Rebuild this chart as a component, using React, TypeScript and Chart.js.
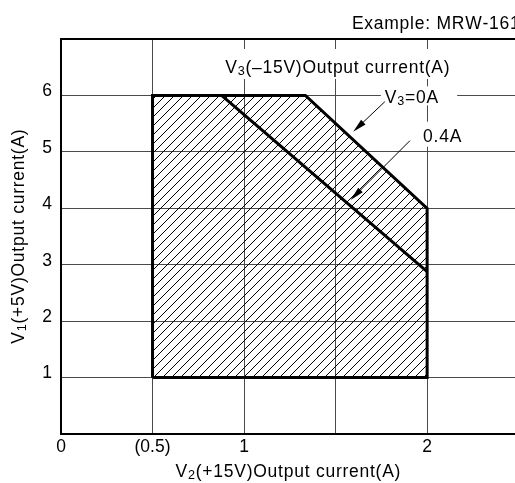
import React, { useEffect, useRef } from "react";
import { Chart, registerables } from "chart.js";

Chart.register(...registerables);

const FONT_FAMILY = '"Liberation Sans", Arial, Helvetica, sans-serif';
const FONT_SIZE = 17.5;
const LETTER_SPACING = 0.75;
const HATCH_SPACING = 9;

// Axis ticks
const xTickValues = [0, 0.5, 1, 1.5, 2];
const xTickLabels = ["0", "(0.5)", "1", "", "2"];
const yTickValues = [1, 2, 3, 4, 5, 6];
const yTickLabels = ["1", "2", "3", "4", "5", "6"];
const xMin = 0;
const xMax = 2.48;
const yMin = 0;
const yMax = 7;

// Operating area boundary for V3 = 0A (closed polygon)
const areaX = [0.5, 0.5, 1.335, 2, 2, 0.5];
const areaY = [1, 6, 6, 4, 1, 1];
// Boundary for V3 = 0.4A
const limitX = [0.877, 2];
const limitY = [6, 2.876];

// Text annotations ("_" marks a subscript character)
const noteTexts = ["Example: MRW-161", "V_3(–15V)Output current(A)", "V_3=0A", "0.4A"];
const noteX = [1.589, 1.51, 1.769, 1.978];
const noteY = [7.172, 6.389, 5.86, 5.18];
const noteAlign = ["left", "center", "left", "left"];
// white box: [above baseline, right, below baseline, left]
const noteBox: (number[] | null)[] = [null, [24.5, 3, 5.5, 3], [17, 19, 2, 4], [20, 2, 5, 3]];

// Leader arrows (start -> tip)
const arrowFromX = [1.769, 1.906];
const arrowFromY = [5.889, 5.198];
const arrowToX = [1.596, 1.582];
const arrowToY = [5.357, 4.147];

const xTitle = "V_2(+15V)Output current(A)";
const yTitle = "V_1(+5V)Output current(A)";

type Seg = { t: string; sub: boolean };

function parseRich(s: string): Seg[] {
  const out: Seg[] = [];
  let buf = "";
  for (let i = 0; i < s.length; i++) {
    if (s[i] === "_" && i + 1 < s.length) {
      if (buf) {
        out.push({ t: buf, sub: false });
        buf = "";
      }
      out.push({ t: s[i + 1], sub: true });
      i++;
    } else buf += s[i];
  }
  if (buf) out.push({ t: buf, sub: false });
  return out;
}

const fontStr = (size: number) => `${size}px ${FONT_FAMILY}`;

function segWidth(ctx: CanvasRenderingContext2D, s: Seg, size: number) {
  ctx.font = fontStr(s.sub ? size * 0.72 : size);
  return ctx.measureText(s.t).width + LETTER_SPACING * s.t.length;
}

function richWidth(ctx: CanvasRenderingContext2D, segs: Seg[], size: number) {
  let w = 0;
  for (const s of segs) w += segWidth(ctx, s, size);
  return w - LETTER_SPACING;
}

function drawRich(
  ctx: CanvasRenderingContext2D,
  segs: Seg[],
  x: number,
  y: number,
  size: number,
  align: string
) {
  const w = richWidth(ctx, segs, size);
  let cx = align === "center" ? x - w / 2 : align === "right" ? x - w : x;
  ctx.textAlign = "left";
  ctx.textBaseline = "alphabetic";
  ctx.fillStyle = "#000";
  for (const s of segs) {
    const sz = s.sub ? size * 0.72 : size;
    ctx.font = fontStr(sz);
    for (const ch of s.t) {
      ctx.fillText(ch, cx, y + (s.sub ? size * 0.1 : 0));
      cx += ctx.measureText(ch).width + LETTER_SPACING;
    }
  }
}

function noteLeft(ctx: CanvasRenderingContext2D, i: number, px: number) {
  const w = richWidth(ctx, parseRich(noteTexts[i]), FONT_SIZE);
  const left = noteAlign[i] === "center" ? px - w / 2 : noteAlign[i] === "right" ? px - w : px;
  return { left, w };
}

const annotPlugin = {
  id: "annot",
  beforeDatasetsDraw(chart: any) {
    const { ctx, chartArea } = chart;
    const xs = chart.scales.x;
    const ys = chart.scales.y;
    // Hatched fill of the operating area
    ctx.save();
    ctx.beginPath();
    ctx.rect(chartArea.left, chartArea.top, chartArea.right - chartArea.left, chartArea.bottom - chartArea.top);
    ctx.clip();
    ctx.beginPath();
    areaX.forEach((v, i) => {
      const px = xs.getPixelForValue(v);
      const py = ys.getPixelForValue(areaY[i]);
      if (i === 0) ctx.moveTo(px, py);
      else ctx.lineTo(px, py);
    });
    ctx.closePath();
    ctx.clip();
    const left = xs.getPixelForValue(Math.min(...areaX));
    const right = xs.getPixelForValue(Math.max(...areaX));
    const top = ys.getPixelForValue(Math.max(...areaY));
    const bottom = ys.getPixelForValue(Math.min(...areaY));
    ctx.strokeStyle = "#000";
    ctx.lineWidth = 1;
    ctx.beginPath();
    const cStart = Math.floor((left + top) / HATCH_SPACING) * HATCH_SPACING;
    for (let c = cStart; c <= right + bottom; c += HATCH_SPACING) {
      ctx.moveTo(c - bottom, bottom);
      ctx.lineTo(c - top, top);
    }
    ctx.stroke();
    ctx.restore();

    // White boxes behind labels
    ctx.save();
    ctx.fillStyle = "#fff";
    noteTexts.forEach((_, i) => {
      const b = noteBox[i];
      if (!b) return;
      const px = xs.getPixelForValue(noteX[i]);
      const py = ys.getPixelForValue(noteY[i]);
      const { left: l, w } = noteLeft(ctx, i, px);
      ctx.fillRect(l - b[3], py - b[0], w + b[1] + b[3], b[0] + b[2]);
    });
    ctx.restore();
  },
  afterDatasetsDraw(chart: any) {
    const { ctx } = chart;
    const xs = chart.scales.x;
    const ys = chart.scales.y;
    ctx.save();
    // arrows
    arrowFromX.forEach((_, i) => {
      const x0 = xs.getPixelForValue(arrowFromX[i]);
      const y0 = ys.getPixelForValue(arrowFromY[i]);
      const x1 = xs.getPixelForValue(arrowToX[i]);
      const y1 = ys.getPixelForValue(arrowToY[i]);
      const ang = Math.atan2(y1 - y0, x1 - x0);
      const len = 14;
      const hw = 3.2;
      ctx.strokeStyle = "#000";
      ctx.lineWidth = 1;
      ctx.beginPath();
      ctx.moveTo(x0, y0);
      ctx.lineTo(x1 - Math.cos(ang) * len * 0.8, y1 - Math.sin(ang) * len * 0.8);
      ctx.stroke();
      const bx = x1 - Math.cos(ang) * len;
      const by = y1 - Math.sin(ang) * len;
      ctx.fillStyle = "#000";
      ctx.beginPath();
      ctx.moveTo(x1, y1);
      ctx.lineTo(bx + Math.sin(ang) * hw, by - Math.cos(ang) * hw);
      ctx.lineTo(bx - Math.sin(ang) * hw, by + Math.cos(ang) * hw);
      ctx.closePath();
      ctx.fill();
    });
    ctx.restore();
  },
  afterDraw(chart: any) {
    const { ctx, chartArea } = chart;
    const xs = chart.scales.x;
    const ys = chart.scales.y;
    ctx.save();
    // top frame line
    ctx.strokeStyle = "#000";
    ctx.lineWidth = 2;
    ctx.beginPath();
    ctx.moveTo(chartArea.left - 1, chartArea.top);
    ctx.lineTo(chartArea.right + 2, chartArea.top);
    ctx.stroke();
    // notes
    noteTexts.forEach((t, i) => {
      const px = xs.getPixelForValue(noteX[i]);
      const py = ys.getPixelForValue(noteY[i]);
      drawRich(ctx, parseRich(t), px, py, FONT_SIZE, noteAlign[i]);
    });
    // axis titles
    const cx = (chartArea.left + chartArea.right) / 2;
    drawRich(ctx, parseRich(xTitle), cx, chartArea.bottom + 43, FONT_SIZE, "center");
    const cy = (chartArea.top + chartArea.bottom) / 2;
    ctx.translate(chartArea.left - 37, cy);
    ctx.rotate(-Math.PI / 2);
    drawRich(ctx, parseRich(yTitle), 0, 0, FONT_SIZE, "center");
    ctx.restore();
  },
};

export default function App() {
  const ref = useRef<HTMLCanvasElement | null>(null);
  useEffect(() => {
    const canvas = ref.current;
    if (!canvas) return;
    const chart = new Chart(canvas, {
      type: "scatter",
      data: {
        datasets: [
          {
            data: areaX.map((v, i) => ({ x: v, y: areaY[i] })),
            showLine: true,
            borderColor: "#000",
            borderWidth: 3,
            pointRadius: 0,
            fill: false,
            tension: 0,
            borderJoinStyle: "miter",
          } as any,
          {
            data: limitX.map((v, i) => ({ x: v, y: limitY[i] })),
            showLine: true,
            borderColor: "#000",
            borderWidth: 3,
            pointRadius: 0,
            fill: false,
            tension: 0,
          } as any,
        ],
      },
      options: {
        responsive: false,
        animation: false,
        events: [],
        layout: { padding: { top: 39, left: 0, right: 0, bottom: 0 } },
        plugins: { legend: { display: false }, tooltip: { enabled: false }, title: { display: false } },
        scales: {
          x: {
            type: "linear",
            min: xMin,
            max: xMax,
            afterBuildTicks: (s: any) => {
              s.ticks = xTickValues.map((v) => ({ value: v }));
            },
            afterFit: (s: any) => {
              s.height = 49;
            },
            ticks: {
              callback: (v: any) => {
                const i = xTickValues.indexOf(Number(v));
                return i >= 0 ? xTickLabels[i] : "";
              },
              font: { family: FONT_FAMILY, size: FONT_SIZE },
              color: "#000",
              padding: 3,
              maxRotation: 0,
              autoSkip: false,
            },
            grid: { color: "#4a4a4a", lineWidth: 1, drawTicks: false },
            border: { color: "#000", width: 2 },
          },
          y: {
            type: "linear",
            min: yMin,
            max: yMax,
            afterBuildTicks: (s: any) => {
              const t = [yMin, ...yTickValues, yMax];
              s.ticks = t.map((v) => ({ value: v }));
            },
            afterFit: (s: any) => {
              s.width = 61;
            },
            ticks: {
              callback: (v: any) => {
                const i = yTickValues.indexOf(Number(v));
                return i >= 0 ? yTickLabels[i] : "";
              },
              font: { family: FONT_FAMILY, size: FONT_SIZE },
              color: "#000",
              padding: 9,
              labelOffset: -4,
              autoSkip: false,
            },
            grid: { color: "#4a4a4a", lineWidth: 1, drawTicks: false },
            border: { color: "#000", width: 2 },
          },
        },
      } as any,
      plugins: [annotPlugin],
    });
    return () => chart.destroy();
  }, []);
  return (
    <div style={{ position: "fixed", left: 0, top: 0, width: 515, height: 483, background: "#fff" }}>
      <canvas ref={ref} width={515} height={483} style={{ display: "block" }} />
    </div>
  );
}
